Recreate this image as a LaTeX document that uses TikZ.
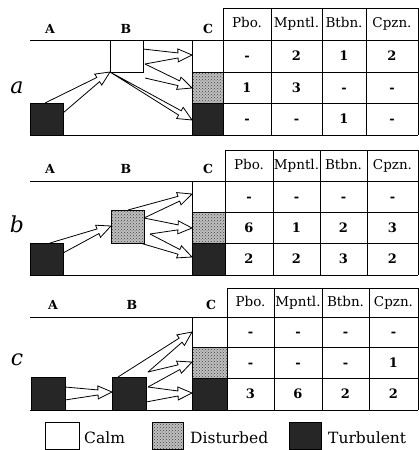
\documentclass[tikz,border=0pt]{standalone}
\usepackage{fontspec}
\setmainfont{DejaVu Serif}
\usetikzlibrary{calc,patterns}
\tikzset{
 ln/.style={line width=1pt},
 calmbox/.style={draw, line width=1pt, fill=white},
 distbox/.style={draw, line width=1pt, fill=black!25, postaction={pattern=crosshatch dots, pattern color=black!75}},
 turbbox/.style={draw, line width=1pt, fill=black!85},
 hdr/.style={font=\fontsize{13.5}{15}\selectfont, inner sep=0pt, text height=9.5pt, text depth=2.5pt},
 num/.style={font=\bfseries\fontsize{13}{15}\selectfont, inner sep=0pt, text height=9pt, text depth=0pt},
 collab/.style={font=\bfseries\fontsize{12.5}{14}\selectfont, inner sep=0pt, text height=9pt, text depth=0pt},
 plabel/.style={font=\itshape\fontsize{22}{26}\selectfont, inner sep=0pt},
 leg/.style={font=\fontsize{15.5}{18}\selectfont, inner sep=0pt, anchor=west, text height=11pt, text depth=0pt},
 warr/.style={line width=0.8pt, line join=miter},
}
\newcommand\warrow[3]{%
 \coordinate (wm) at ($(#1)!0.5!(#2)$);
 \coordinate (wb) at ($(#3)!14pt!(wm)$);
 \draw[warr] (#1) -- ($(wb)!2.5pt!90:(#3)$) -- ($(wb)!6.5pt!90:(#3)$) -- (#3)
   -- ($(wb)!6.5pt!-90:(#3)$) -- ($(wb)!2.5pt!-90:(#3)$) -- (#2);
}
\newcommand\trow[6]{%
 \node[num] (#1-1) at (\cA,#2) {#3};
 \node[num] (#1-2) at (\cB,#2) {#4};
 \node[num] (#1-3) at (\cC,#2) {#5};
 \node[num] (#1-4) at (\cD,#2) {#6};
}
\newcommand\thead[2]{%
 \node[hdr] (#1-1) at (\cA,#2) {Pbo.};
 \node[hdr] (#1-2) at (\cB,#2) {Mpntl.};
 \node[hdr] (#1-3) at (\cC,#2) {Btbn.};
 \node[hdr] (#1-4) at (\cD,#2) {Cpzn.};
}
\begin{document}
\begin{tikzpicture}[x=1pt,y=-1pt]
\useasboundingbox (0,0) rectangle (419,450);

% ================= panel a =================
\def\cA{247}\def\cB{296.5}\def\cC{344}\def\cD{392}
\draw[turbbox] (30,103) rectangle (63,135);
\draw[calmbox] (110,40) rectangle (143,72);
\draw[distbox] (192,72) rectangle (223,103);
\draw[turbbox] (192,103) rectangle (223,135);
\draw[ln] (30,40) -- (418,40);
\draw[ln] (30,135) -- (418,135);
\draw[ln] (192,40) -- (192,135);
\foreach \y in {8,72,103} \draw[ln] (223,\y) -- (418,\y);
\foreach \x in {223,271,322,366,418} \draw[ln] (\x,8) -- (\x,135);
\node[collab] (aLA) at (50,29) {A};
\node[collab] (aLB) at (126,29) {B};
\node[collab] (aLC) at (208,29) {C};
\node[plabel] (aP) at (17,88) {a};
\thead{ah}{24}
\trow{a1}{56}{-}{2}{1}{2}
\trow{a2}{87.5}{1}{3}{-}{-}
\trow{a3}{119}{-}{-}{1}{-}
\coordinate (aA1) at (45,103);
\coordinate (aA2) at (63,113);
\coordinate (aBc) at (110,72);
\coordinate (aB1) at (143,49);
\coordinate (aB2) at (145,64);
\coordinate (aB3) at (145,78);
\coordinate (aC1) at (192,55);
\coordinate (aC2) at (192,88);
\coordinate (aC3) at (192,120);
\warrow{aA1}{aA2}{aBc}
\warrow{aB1}{aB2}{aC1}
\warrow{aB2}{aB3}{aC2}
\warrow{aBc}{aBc}{aC3}

% ================= panel b =================
\def\cA{249}\def\cB{296.5}\def\cC{343.5}\def\cD{392.5}
\draw[turbbox] (30,243) rectangle (63,275);
\draw[distbox] (111,210) rectangle (144,243);
\draw[distbox] (192,212) rectangle (225,243);
\draw[turbbox] (192,243) rectangle (225,275);
\draw[ln] (30,181) -- (418,181);
\draw[ln] (30,275) -- (418,275);
\draw[ln] (192,181) -- (192,275);
\foreach \y in {150,212,243} \draw[ln] (225,\y) -- (418,\y);
\foreach \x in {225,273,320,367,418} \draw[ln] (\x,150) -- (\x,275);
\node[collab] (bLA) at (50,169) {A};
\node[collab] (bLB) at (126,169) {B};
\node[collab] (bLC) at (208,169) {C};
\node[plabel] (bP) at (17,224) {b};
\thead{bh}{165.5}
\trow{b1}{196.5}{-}{-}{-}{-}
\trow{b2}{227.5}{6}{1}{2}{3}
\trow{b3}{259}{2}{2}{3}{2}
\coordinate (bA1) at (50,243);
\coordinate (bA2) at (63,253);
\coordinate (bBt) at (111,226);
\coordinate (bB0) at (128,210);
\coordinate (bB1) at (144,218);
\coordinate (bB2) at (150,234);
\coordinate (bB3) at (140,243);
\coordinate (bC1) at (192,194);
\coordinate (bC2) at (192,228);
\coordinate (bC3) at (192,257);
\warrow{bA1}{bA2}{bBt}
\warrow{bB0}{bB1}{bC1}
\warrow{bB1}{bB2}{bC2}
\warrow{bB2}{bB3}{bC3}

% ================= panel c =================
\def\cA{250.5}\def\cB{298}\def\cC{345.5}\def\cD{393.5}
\draw[turbbox] (31,377) rectangle (65,410);
\draw[turbbox] (112,377) rectangle (146,410);
\draw[distbox] (192,347) rectangle (227,378);
\draw[turbbox] (192,378) rectangle (227,410);
\draw[ln] (30,317) -- (418,317);
\draw[ln] (30,410) -- (418,410);
\draw[ln] (192,317) -- (192,410);
\foreach \y in {288,347,378} \draw[ln] (227,\y) -- (418,\y);
\foreach \x in {227,274,322,369,418} \draw[ln] (\x,288) -- (\x,410);
\node[collab] (cLA) at (53,305) {A};
\node[collab] (cLB) at (132,305) {B};
\node[collab] (cLC) at (211,305) {C};
\node[plabel] (cP) at (17,360) {c};
\thead{ch}{302.5}
\trow{c1}{332}{-}{-}{-}{-}
\trow{c2}{362.5}{-}{-}{-}{1}
\trow{c3}{394}{3}{6}{2}{2}
\coordinate (cA1) at (65,387);
\coordinate (cA2) at (65,400);
\coordinate (cBt) at (112,392);
\coordinate (cB0) at (118,377);
\coordinate (cB1) at (148,372);
\coordinate (cB2) at (148,387);
\coordinate (cB3) at (146,402);
\coordinate (cC1) at (192,332);
\coordinate (cC2) at (192,362);
\coordinate (cC3) at (192,393);
\warrow{cA1}{cA2}{cBt}
\warrow{cB0}{cB1}{cC1}
\warrow{cB1}{cB2}{cC2}
\warrow{cB2}{cB3}{cC3}

% ================= legend =================
\draw[calmbox] (45,422) rectangle (79,449);
\draw[distbox] (152,422) rectangle (183,449);
\draw[turbbox] (289,422) rectangle (321,449);
\node[leg] (lCalm) at (84,438) {Calm};
\node[leg] (lDist) at (190,438) {Disturbed};
\node[leg] (lTurb) at (328,438) {Turbulent};
\end{tikzpicture}
\end{document}
